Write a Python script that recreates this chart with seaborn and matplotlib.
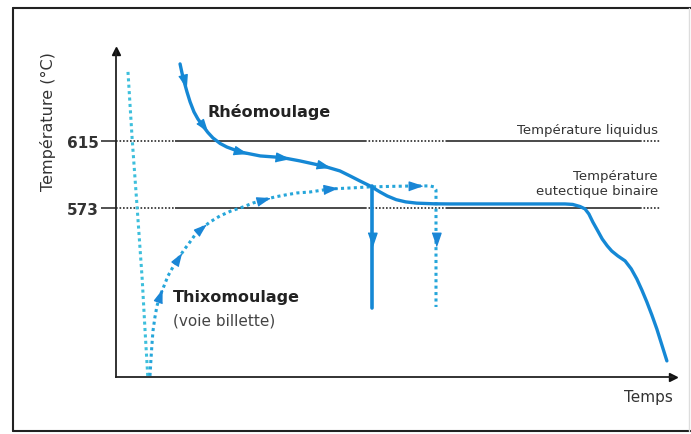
import numpy as np
import seaborn as sns
import matplotlib.pyplot as plt
from matplotlib.lines import Line2D

# Temperature reference levels (degC)
liquidus_temp = 615
eutectic_temp = 573

# Rheomoulage path (time in arbitrary units, temperature in degC)
rheo_time = [11.5, 11.85, 12.2, 12.75, 13.3, 14.0, 14.7, 15.6, 16.5, 17.4, 18.7, 19.9, 22.3,
             25.9, 29.8, 33.0, 37.2, 40.2, 42.0, 43.8, 45.6, 47.4, 48.7, 50.3, 52.0,
             54.0, 57.0, 60.0, 68.9, 77.9, 80.6, 82.0, 83.3, 84.2, 84.9, 85.6, 86.4,
             87.3, 88.2, 89.0, 90.1, 91.4, 92.5, 93.5, 94.4, 95.3, 96.2, 97.1, 98.0, 98.9]
rheo_temp = [663.3, 657.6, 652.6, 645.7, 639.5, 633.2, 628.8, 624.4, 620.3, 616.9, 613.4, 611.2, 608.1,
             605.6, 604.6, 602.5, 599.3, 596.2, 593.1, 589.9, 586.8, 583.0, 580.5, 578.2, 576.8,
             576.0, 575.6, 575.5, 575.5, 575.5, 575.5, 575.2, 573.9, 572.4, 569.2, 564.2, 559.2,
             553.5, 549.2, 546.0, 542.9, 539.8, 534.8, 528.5, 521.6, 514.1, 505.9, 497.1, 487.1, 477.1]
rheo_arrows = [2, 7, 12, 14, 16]

# vertical drop of the rheo path (injection)
rheo_drop_time = [46.0, 46.0]
rheo_drop_temp = [586.8, 510.3]

# Thixomoulage (billet route): reheating path
thixo_time = [6.1, 6.28, 6.46, 6.64, 7.0, 7.36, 7.9, 8.62, 9.34, 10.23, 11.13, 12.21,
              13.29, 14.18, 15.26, 16.88, 18.67, 20.65, 22.8, 24.6, 26.39, 28.55, 30.34,
              32.5, 34.83, 38.42, 42.01, 45.6, 49.19, 53.68, 56.37, 57.09, 57.45, 57.45]
thixo_temp = [467.7, 478.3, 487.7, 495.9, 504.7, 511.6, 517.8, 524.1, 530.4, 536.0, 541.0, 546.7,
              551.7, 556.1, 559.8, 564.2, 568.0, 571.1, 573.6, 576.1, 578.0, 579.9, 581.1,
              582.4, 583.0, 584.9, 585.5, 586.2, 586.5, 586.8, 586.8, 586.2, 584.3, 510.9]
thixo_arrows = [6, 10, 14, 20, 25, 29]

# initial cooling of the billet
cool_time = [2.15, 2.9, 3.8, 4.7, 5.2, 5.7]
cool_temp = [658.3, 616.3, 573.0, 528.5, 497.1, 467.7]

# position of the downward arrows on the vertical drops
drop_arrow_temp = 553.5

# breakpoints of the reference lines: dotted / solid alternating
level_breaks = [0, 10.6, 44.7, 59.4, 94.1, 97.7]

blue = '#1588d5'
thixo_blue = '#26a6da'
arrow_blue = '#1a86d6'
cyan = '#3dbfdc'
dot = (0, (1, 1.1))

sns.set_theme(style='white')
plt.rcParams['font.family'] = ['DejaVu Sans']

fig = plt.figure(figsize=(6.91, 4.35), dpi=100)
ax = fig.add_axes([116 / 691, 1 - 378 / 435, (673 - 116) / 691, (378 - 52) / 435])
ax.set_xlim(0, 100)
ax.set_ylim(467.0, 671.4)


def arrow_head(x, y, dx, dy, color, size=10):
    # filled triangle pointing along (dx, dy) in screen space
    p = ax.transData.transform([(x, y), (x + dx, y + dy)])
    ang = np.arctan2(p[1, 1] - p[0, 1], p[1, 0] - p[0, 0])
    tri = np.array([[1.0, 0.0], [-0.9, 0.65], [-0.9, -0.65]])
    rot = np.array([[np.cos(ang), -np.sin(ang)], [np.sin(ang), np.cos(ang)]])
    ax.plot(x, y, marker=tri @ rot.T, ms=size, color=color, ls='none', zorder=5)


# reference levels
for level in [liquidus_temp, eutectic_temp]:
    for i in range(len(level_breaks) - 1):
        ls = dot if i % 2 == 0 else '-'
        ax.hlines(level, level_breaks[i], level_breaks[i + 1], colors='#2b2b2b',
                  linestyles=ls, lw=1.2, zorder=1)

# curves
sns.lineplot(x=cool_time, y=cool_temp, sort=False, estimator=None, ax=ax,
             color=cyan, lw=2.2, linestyle=dot, zorder=2)
sns.lineplot(x=thixo_time, y=thixo_temp, sort=False, estimator=None, ax=ax,
             color=thixo_blue, lw=2.2, linestyle=dot, zorder=3)
sns.lineplot(x=rheo_time, y=rheo_temp, sort=False, estimator=None, ax=ax,
             color=blue, lw=2.4, zorder=4, solid_joinstyle='round', solid_capstyle='round')
sns.lineplot(x=rheo_drop_time, y=rheo_drop_temp, sort=False, estimator=None, ax=ax,
             color=blue, lw=2.6, zorder=4, solid_capstyle='round')

for i in rheo_arrows:
    arrow_head(rheo_time[i], rheo_temp[i], rheo_time[i + 1] - rheo_time[i - 1],
               rheo_temp[i + 1] - rheo_temp[i - 1], blue)
for i in thixo_arrows:
    arrow_head(thixo_time[i], thixo_temp[i], thixo_time[i + 1] - thixo_time[i - 1],
               thixo_temp[i + 1] - thixo_temp[i - 1], arrow_blue)
arrow_head(rheo_drop_time[0], drop_arrow_temp, 0, -1, blue)
arrow_head(thixo_time[-1], drop_arrow_temp, 0, -1, arrow_blue)

# annotations
ax.text(16.5, 633.8, 'Rhéomoulage', fontsize=11.5, fontweight='bold', color='#222222',
        va='center', ha='left')
ax.text(10.2, 517.2, 'Thixomoulage', fontsize=11.5, fontweight='bold', color='#222222',
        va='center', ha='left')
ax.text(10.2, 502.8, '(voie billette)', fontsize=11, color='#444444', va='center', ha='left')
ax.text(97.3, 621.9, 'Température liquidus', fontsize=9.5, color='#333333',
        va='center', ha='right')
ax.text(97.3, 588.7, 'Température\neutectique binaire', fontsize=9.5, color='#333333',
        va='center', ha='right', multialignment='right', linespacing=1.25)

# axes styling
sns.despine(ax=ax)
ax.spines['left'].set_color('#222222')
ax.spines['bottom'].set_color('#222222')
ax.spines['left'].set_linewidth(1.3)
ax.spines['bottom'].set_linewidth(1.3)
ax.plot(1, 0, '>', color='#111111', ms=6, transform=ax.transAxes, clip_on=False)
ax.plot(0, 1, '^', color='#111111', ms=6, transform=ax.transAxes, clip_on=False)
ax.set_xticks([])
ax.set_yticks([eutectic_temp, liquidus_temp])
ax.tick_params(axis='y', left=True, direction='out', length=11, width=1.2,
               pad=1.5, labelsize=11, labelcolor='#333333', color='#333333')
for lab in ax.get_yticklabels():
    lab.set_fontweight('semibold')
ax.set_xlabel('Temps', loc='right', fontsize=11, color='#333333', labelpad=9)
ax.set_ylabel('Température (°C)', loc='top', fontsize=11.5, color='#333333', labelpad=8)

# outer frame
fig.add_artist(Line2D([13 / 691, 13 / 691], [1 - 432 / 435, 1 - 9 / 435],
                      transform=fig.transFigure, color='#222222', lw=1.5))
fig.add_artist(Line2D([13 / 691, 1], [1 - 9 / 435, 1 - 9 / 435],
                      transform=fig.transFigure, color='#222222', lw=1.5))
fig.add_artist(Line2D([13 / 691, 1], [1 - 432 / 435, 1 - 432 / 435],
                      transform=fig.transFigure, color='#222222', lw=1.5))
fig.add_artist(Line2D([689 / 691, 689 / 691], [1 - 432 / 435, 1 - 9 / 435],
                      transform=fig.transFigure, color='#dddddd', lw=1.0))

fig.savefig('out.png', dpi=100)
